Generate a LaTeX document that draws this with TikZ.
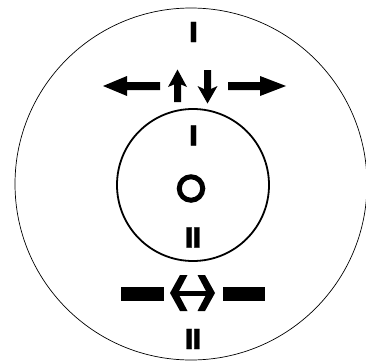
\documentclass[tikz,border=0pt]{standalone}
\usepackage{fontspec}
\newfontfamily\numfont{DejaVu Sans}[FakeBold=1.2]
\begin{document}
\begin{tikzpicture}[x=1pt,y=-1pt,
  numeral/.style={font=\numfont\bfseries\fontsize{27.5}{27.5}\selectfont, inner sep=0pt, anchor=base},
  symb/.style={fill=black, draw=none}]
\useasboundingbox (0,0) rectangle (366,361);
\begin{scope}
\clip (0,0) rectangle (366,361);
\node[circle, draw, line width=0.7pt, minimum size=352pt, inner sep=0pt] (outer) at (191,184) {};
\end{scope}
\node[circle, draw, line width=1.8pt, minimum size=152pt, inner sep=0pt] (inner) at (193,185) {};
\node[circle, draw, line width=5pt, minimum size=23.5pt, inner sep=0pt] (ring) at (191,188.5) {};
% numerals
\node[numeral] (topI) at (193.5,42) {I};
\node[numeral] (innerI) at (193.5,145.5) {I};
\node[numeral] (innerII) at (193,247.5) {I\kern-2.5ptI};
\node[numeral] (bottomII) at (193,349) {I\kern-2.5ptI};
% upper arrows
\fill[symb] (103,86) -- (127,76) -- (127,82) -- (160,82) -- (160,90) -- (127,90) -- (127,96) -- cycle;
\fill[symb] (286,86) -- (260,76) -- (260,82) -- (228,82) -- (228,90) -- (260,90) -- (260,96) -- cycle;
\fill[symb] (177.5,69.5) -- (187,87) -- (181,84.5) -- (181,102) -- (174,102) -- (174,84.5) -- (168,87) -- cycle;
\fill[symb] (207.5,103.5) -- (217.5,86) -- (211,89) -- (211,70) -- (204,70) -- (204,89) -- (197.5,86) -- cycle;
% lower bars and double arrow
\fill[symb] (121,286.5) rectangle (164,300.5);
\fill[symb] (223,286.5) rectangle (265,300.5);
\fill[symb] (170,293) -- (180,275) -- (187.5,275) -- (178,293) -- (187.5,311) -- (180,311) -- cycle;
\fill[symb] (215,293) -- (205,275) -- (197.5,275) -- (207,293) -- (197.5,311) -- (205,311) -- cycle;
\fill[symb] (176,290.5) rectangle (209,295.5);
\end{tikzpicture}
\end{document}
